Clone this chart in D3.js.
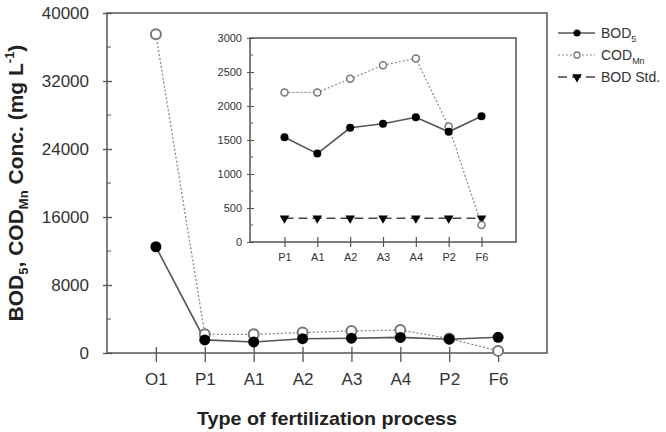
<!DOCTYPE html>
<html lang="en">
<head>
<meta charset="UTF-8">
<title>BOD5 / CODMn</title>
<script src="https://d3js.org/d3.v7.min.js"></script>
<style>
  body { margin: 0; background: #fff; }
  svg { font-family: "Liberation Sans", Arial, sans-serif; }
</style>
</head>
<body>
<div class="canvas"></div>
<script>
  // data
  const categories = ['O1', 'P1', 'A1', 'A2', 'A3', 'A4', 'P2', 'F6']
  const bod5 = [12500, 1540, 1300, 1680, 1740, 1835, 1620, 1850]
  const codMn = [37500, 2200, 2200, 2400, 2600, 2700, 1700, 250]
  const insetCategories = ['P1', 'A1', 'A2', 'A3', 'A4', 'P2', 'F6']
  const insetBod5 = [1540, 1300, 1680, 1740, 1835, 1620, 1850]
  const insetCodMn = [2200, 2200, 2400, 2600, 2700, 1700, 250]
  const bodStd = [350, 350, 350, 350, 350, 350, 350]
  const mainTicks = [0, 8000, 16000, 24000, 32000, 40000]
  const insetTicks = [0, 500, 1000, 1500, 2000, 2500, 3000]

  const width = 666
  const height = 432
  const axisColor = '#555'
  const fmt = d3.format('d')

  const svg = d3.select('.canvas')
    .append('svg')
    .attr('width', width)
    .attr('height', height)

  // main plot
  const [ml, mt, mr, mb] = [107, 13, 547, 353]

  const x = d3.scalePoint()
    .domain(categories)
    .range([ml, mr])
    .padding(1)

  const y = d3.scaleLinear()
    .domain([0, 40000])
    .range([mb, mt])

  svg.append('rect')
    .attr('x', ml).attr('y', mt)
    .attr('width', mr - ml).attr('height', mb - mt)
    .attr('fill', 'none')
    .attr('stroke', axisColor)
    .attr('stroke-width', 1.5)

  // minor y ticks
  svg.append('g')
    .selectAll('line')
    .data(d3.range(4000, 40000, 8000))
    .enter().append('line')
    .attr('x1', ml).attr('x2', ml + 4)
    .attr('y1', d => y(d)).attr('y2', d => y(d))
    .attr('stroke', axisColor)

  const yAxisG = svg.append('g')
    .attr('transform', `translate(${ml}, 0)`)
    .call(d3.axisLeft(y).tickValues(mainTicks).tickFormat(fmt).tickSize(4).tickPadding(14))
  yAxisG.select('.domain').remove()
  yAxisG.selectAll('.tick line').attr('x2', 5).attr('x1', -4).attr('stroke', axisColor).attr('stroke-width', 1.3)
  yAxisG.selectAll('text').style('font-size', '17px').attr('fill', '#333')

  const xAxisG = svg.append('g')
    .attr('transform', `translate(0, ${mb})`)
    .call(d3.axisBottom(x).tickSize(8).tickPadding(12))
  xAxisG.select('.domain').remove()
  xAxisG.selectAll('.tick line').attr('y1', -6).attr('y2', 9).attr('stroke', axisColor).attr('stroke-width', 1.3)
  xAxisG.selectAll('text').style('font-size', '17px').attr('fill', '#333')

  // axis titles
  svg.append('text')
    .attr('x', 327).attr('y', 425)
    .attr('text-anchor', 'middle')
    .style('font-size', '19px')
    .style('font-weight', 'bold')
    .attr('fill', '#222')
    .attr('textLength', 260)
    .attr('lengthAdjust', 'spacingAndGlyphs')
    .text('Type of fertilization process')

  const yTitle = svg.append('text')
    .attr('transform', 'translate(23, 183) rotate(-90)')
    .attr('text-anchor', 'middle')
    .style('font-size', '21px')
    .style('font-weight', 'bold')
    .attr('fill', '#222')
  yTitle.append('tspan').text('BOD')
  yTitle.append('tspan').text('5').style('font-size', '13px').attr('dy', 5)
  yTitle.append('tspan').text(', COD').attr('dy', -5)
  yTitle.append('tspan').text('Mn').style('font-size', '13px').attr('dy', 5)
  yTitle.append('tspan').text(' Conc. (mg L').attr('dy', -5)
  yTitle.append('tspan').text('-1').style('font-size', '13px').attr('dy', -9)
  yTitle.append('tspan').text(')').attr('dy', 9)

  const mainLine = d3.line()
    .x((d, i) => x(categories[i]))
    .y(d => y(d))

  svg.append('path')
    .attr('d', mainLine(codMn))
    .attr('fill', 'none')
    .attr('stroke', '#888')
    .attr('stroke-width', 1.3)
    .attr('stroke-dasharray', '2,2')

  svg.append('path')
    .attr('d', mainLine(bod5))
    .attr('fill', 'none')
    .attr('stroke', '#555')
    .attr('stroke-width', 1.6)

  svg.append('g').selectAll('circle')
    .data(codMn)
    .enter().append('circle')
    .attr('cx', (d, i) => x(categories[i]))
    .attr('cy', d => y(d))
    .attr('r', 5)
    .attr('fill', '#fff')
    .attr('stroke', '#777')
    .attr('stroke-width', 2)

  svg.append('g').selectAll('circle')
    .data(bod5)
    .enter().append('circle')
    .attr('cx', (d, i) => x(categories[i]))
    .attr('cy', d => y(d))
    .attr('r', 5.5)
    .attr('fill', '#000')

  // inset
  const [il, it, ir, ib] = [250, 38, 516, 242]

  const ix = d3.scalePoint()
    .domain(insetCategories)
    .range([il, ir])
    .padding(1.05)

  const iy = d3.scaleLinear()
    .domain([0, 3000])
    .range([ib, it])

  svg.append('rect')
    .attr('x', il).attr('y', it)
    .attr('width', ir - il).attr('height', ib - it)
    .attr('fill', '#fff')
    .attr('stroke', axisColor)
    .attr('stroke-width', 1.5)

  svg.append('g')
    .selectAll('line')
    .data(d3.range(250, 3000, 500))
    .enter().append('line')
    .attr('x1', il).attr('x2', il + 3)
    .attr('y1', d => iy(d)).attr('y2', d => iy(d))
    .attr('stroke', axisColor)

  const iyAxisG = svg.append('g')
    .attr('transform', `translate(${il}, 0)`)
    .call(d3.axisLeft(iy).tickValues(insetTicks).tickFormat(fmt).tickSize(3).tickPadding(5))
  iyAxisG.select('.domain').remove()
  iyAxisG.selectAll('.tick line').attr('x1', -3).attr('x2', 4).attr('stroke', axisColor)
  iyAxisG.selectAll('text').style('font-size', '11px').attr('fill', '#333')

  const ixAxisG = svg.append('g')
    .attr('transform', `translate(0, ${ib})`)
    .call(d3.axisBottom(ix).tickSize(5).tickPadding(6))
  ixAxisG.select('.domain').remove()
  ixAxisG.selectAll('.tick line').attr('y1', -5).attr('y2', 5).attr('stroke', axisColor).attr('stroke-width', 1.2)
  ixAxisG.selectAll('text').style('font-size', '11px').attr('fill', '#333')

  const insetLine = d3.line()
    .x((d, i) => ix(insetCategories[i]))
    .y(d => iy(d))

  svg.append('path')
    .attr('d', insetLine(bodStd))
    .attr('fill', 'none')
    .attr('stroke', '#444')
    .attr('stroke-width', 1.6)
    .attr('stroke-dasharray', '9,5')

  svg.append('path')
    .attr('d', insetLine(insetCodMn))
    .attr('fill', 'none')
    .attr('stroke', '#888')
    .attr('stroke-width', 1.2)
    .attr('stroke-dasharray', '2,2')

  svg.append('path')
    .attr('d', insetLine(insetBod5))
    .attr('fill', 'none')
    .attr('stroke', '#555')
    .attr('stroke-width', 1.6)

  const tri = d3.symbol().type(d3.symbolTriangle).size(40)
  svg.append('g').selectAll('path')
    .data(bodStd)
    .enter().append('path')
    .attr('d', tri)
    .attr('transform', (d, i) => `translate(${ix(insetCategories[i])}, ${iy(d)}) rotate(180)`)
    .attr('fill', '#000')

  svg.append('g').selectAll('circle')
    .data(insetCodMn)
    .enter().append('circle')
    .attr('cx', (d, i) => ix(insetCategories[i]))
    .attr('cy', d => iy(d))
    .attr('r', 3.5)
    .attr('fill', '#fff')
    .attr('stroke', '#777')
    .attr('stroke-width', 1.5)

  svg.append('g').selectAll('circle')
    .data(insetBod5)
    .enter().append('circle')
    .attr('cx', (d, i) => ix(insetCategories[i]))
    .attr('cy', d => iy(d))
    .attr('r', 4)
    .attr('fill', '#000')

  // legend
  const legend = svg.append('g').attr('transform', 'translate(558, 0)')
  const legendRows = [
    { y: 33, dash: null, stroke: '#555', marker: 'dot', label: ['BOD', '5'] },
    { y: 55, dash: '2,2', stroke: '#888', marker: 'open', label: ['COD', 'Mn'] },
    { y: 77, dash: '9,5', stroke: '#444', marker: 'tri', label: ['BOD Std.', ''] }
  ]
  legendRows.forEach(r => {
    const g = legend.append('g').attr('transform', `translate(0, ${r.y})`)
    g.append('line')
      .attr('x1', 0).attr('x2', 37)
      .attr('stroke', r.stroke)
      .attr('stroke-width', r.marker === 'open' ? 1.2 : 1.6)
      .attr('stroke-dasharray', r.dash)
    if (r.marker === 'dot') {
      g.append('circle').attr('cx', 19).attr('r', 3.5).attr('fill', '#000')
    } else if (r.marker === 'open') {
      g.append('circle').attr('cx', 19).attr('r', 3).attr('fill', '#fff').attr('stroke', '#777').attr('stroke-width', 1.3)
    } else {
      g.append('path').attr('d', tri).attr('transform', 'translate(19, 0) rotate(180)').attr('fill', '#000')
    }
    const t = g.append('text')
      .attr('x', 43).attr('y', 5)
      .style('font-size', '14px')
      .attr('fill', '#333')
    t.append('tspan').text(r.label[0])
    if (r.label[1]) t.append('tspan').text(r.label[1]).style('font-size', '9px').attr('dy', 4)
  })
</script>
</body>
</html>
